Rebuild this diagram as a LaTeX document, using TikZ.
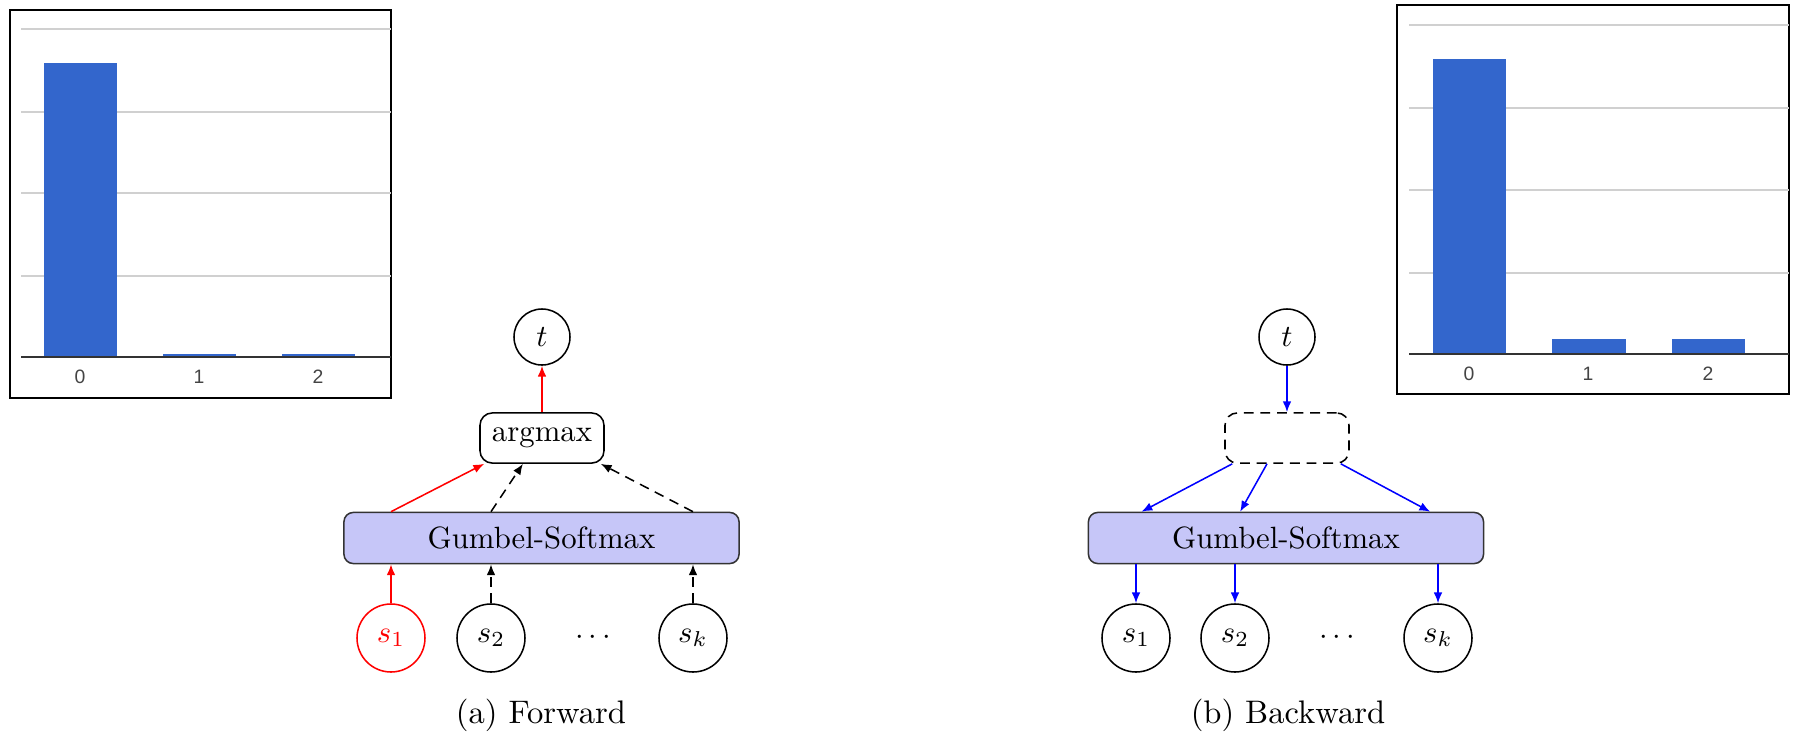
\documentclass[tikz,border=0pt]{standalone}
\usepackage{fontspec}
\newfontfamily\chartfont{Liberation Sans}
\usetikzlibrary{arrows.meta,calc}
\definecolor{barblue}{HTML}{3366CC}
\definecolor{gridgray}{HTML}{D0D0D0}
\definecolor{axisgray}{HTML}{333333}
\definecolor{labgray}{HTML}{444444}
\definecolor{gsfill}{HTML}{C6C6F8}
\tikzset{
  x=0.325pt, y=-0.325pt,
  circnode/.style={circle, draw, line width=0.5pt, minimum size=22.1pt, inner sep=0pt},
  tnode/.style={circle, draw, line width=0.5pt, minimum size=18.2pt, inner sep=0pt},
  gsbox/.style={draw=black!80, line width=0.5pt, rounded corners=3pt, fill=gsfill, minimum width=128.4pt, minimum height=16.6pt, inner sep=0pt},
  argbox/.style={draw, line width=0.5pt, rounded corners=4pt, minimum width=40.3pt, minimum height=16.3pt, inner sep=0pt},
  longdash/.style={dash pattern=on 3.2pt off 2.2pt},
  arr/.style={-{Latex[length=3.5pt,width=2.8pt]}, line width=0.5pt},
  dasharr/.style={arr, longdash},
  barfill/.style={fill=barblue, draw=none},
  gridline/.style={draw=gridgray, line width=0.5pt},
  axisline/.style={draw=axisgray, line width=0.5pt},
  chartframe/.style={draw=black, line width=0.8pt},
  chartlabel/.style={text=labgray, font=\chartfont\fontsize{6.3}{7}\selectfont, inner sep=0pt},
  caption/.style={font=\fontsize{10.6}{12}\selectfont, inner sep=0pt}
}
\begin{document}
\begin{tikzpicture}
\useasboundingbox (0,0) rectangle (1794,732);
% ---------- left chart ----------
\draw[chartframe] (10,10) rectangle (391,398);
\foreach \yy in {29,112,193,276} \draw[gridline] (21,\yy) -- (391,\yy);
\fill[barfill] (44,63) rectangle (117,357);
\fill[barfill] (163,354) rectangle (236,357);
\fill[barfill] (282,354) rectangle (355,357);
\draw[axisline] (21,357) -- (391,357);
\node[chartlabel] (lc0) at (80,377) {0};
\node[chartlabel] (lc1) at (199,377) {1};
\node[chartlabel] (lc2) at (318,377) {2};
% ---------- right chart ----------
\draw[chartframe] (1397,5) rectangle (1789,394);
\foreach \yy in {25,108,190,273} \draw[gridline] (1409,\yy) -- (1789,\yy);
\fill[barfill] (1433,59) rectangle (1506,354);
\fill[barfill] (1552,339) rectangle (1626,354);
\fill[barfill] (1672,339) rectangle (1745,354);
\draw[axisline] (1409,354) -- (1789,354);
\node[chartlabel] (rc0) at (1469,374) {0};
\node[chartlabel] (rc1) at (1588,374) {1};
\node[chartlabel] (rc2) at (1708,374) {2};
% ---------- (a) Forward ----------
\node[tnode] (tA) at (542,337) {$t$};
\node[argbox] (argA) at (542,438) {argmax};
\node[gsbox] (gsA) at (541.5,538) {Gumbel-Softmax};
\node[circnode, draw=red, text=red] (s1A) at (391,638) {$s_1$};
\node[circnode] (s2A) at (491,638) {$s_2$};
\node[inner sep=0pt] (dotsA) at (593,638) {$\cdots$};
\node[circnode] (skA) at (693,638) {$s_k$};
\node[caption] (capA) at (541,715) {(a) Forward};
\draw[arr, red] (argA.north) -- (tA.south);
\draw[arr, red] (gsA.north -| s1A) -- ([xshift=1.6pt]argA.south west);
\draw[dasharr] (gsA.north -| s2A) -- ([xshift=-6.2pt]argA.south);
\draw[dasharr] (gsA.north -| skA) -- ([xshift=-1.3pt]argA.south east);
\draw[arr, red] (s1A.north) -- (gsA.south -| s1A);
\draw[dasharr] (s2A.north) -- (gsA.south -| s2A);
\draw[dasharr] (skA.north) -- (gsA.south -| skA);
% ---------- (b) Backward ----------
\node[tnode] (tB) at (1287,337) {$t$};
\node[argbox, longdash] (argB) at (1287,438) {};
\node[gsbox] (gsB) at (1286,538) {Gumbel-Softmax};
\node[circnode] (s1B) at (1136,638) {$s_1$};
\node[circnode] (s2B) at (1235,638) {$s_2$};
\node[inner sep=0pt] (dotsB) at (1337,638) {$\cdots$};
\node[circnode] (skB) at (1438,638) {$s_k$};
\node[caption] (capB) at (1288,715) {(b) Backward};
\draw[arr, blue] (tB.south) -- (argB.north);
\draw[arr, blue] ([xshift=2.6pt]argB.south west) -- ([xshift=17.5pt]gsB.north west);
\draw[arr, blue] ([xshift=-6.5pt]argB.south) -- ([xshift=-14.9pt]gsB.north);
\draw[arr, blue] ([xshift=-2.9pt]argB.south east) -- ([xshift=-17.6pt]gsB.north east);
\draw[arr, blue] (gsB.south -| s1B) -- (s1B.north);
\draw[arr, blue] (gsB.south -| s2B) -- (s2B.north);
\draw[arr, blue] (gsB.south -| skB) -- (skB.north);
\end{tikzpicture}
\end{document}
